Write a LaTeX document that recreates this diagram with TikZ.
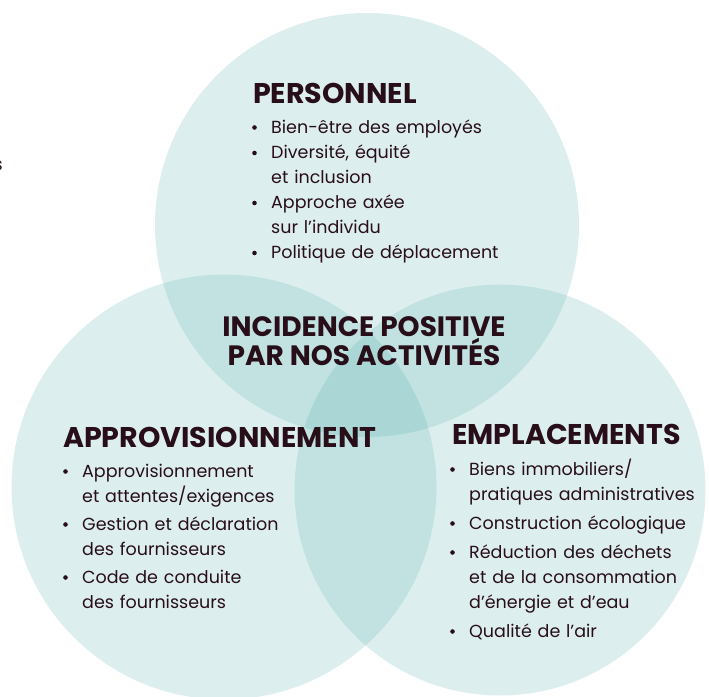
\documentclass[tikz,border=0pt]{standalone}
\usepackage{fontspec}
\setmainfont{Poppins}

\definecolor{venncol}{RGB}{82,174,172}
\definecolor{ink}{RGB}{40,14,24}
\newcommand{\dotmark}{\tikz[baseline={(0pt,-5.5pt)}]\fill[ink] (2.4pt,0pt) circle (2.3pt);}
\newcommand{\bul}[1]{{\let\\\newline\noindent\hangindent=19pt\hangafter=1\makebox[19pt][l]{\dotmark}#1\par}}

\begin{document}
\begin{tikzpicture}[x=1pt, y=-1pt, text=ink,
  venn/.style={circle, fill=venncol, fill opacity=0.2, inner sep=0pt},
  heading/.style={anchor=base west, inner sep=0pt, font=\fontsize{28.5}{30}\selectfont\bfseries},
  points/.style={anchor=base west, inner sep=0pt, text width=290pt, align=left,
    font=\fontsize{17.5}{#1}\selectfont}]
  \useasboundingbox (0,0) rectangle (709,696);

  % the three circles
  \node[venn, minimum size=424pt] (top) at (367,225) {};
  \node[venn, minimum size=425pt] (left) at (224,487) {};
  \node[venn, minimum size=411pt] (right) at (500,490) {};

  \node[anchor=base east, inner sep=0pt, font=\fontsize{17.5}{20}\selectfont] (cut) at (3,170) {s};

  % centre
  \node[inner sep=0pt, align=center, font=\fontsize{28}{29.5}\selectfont\bfseries] (centre) at (364,341)
    {INCIDENCE POSITIVE\\PAR NOS ACTIVITÉS};

  % personnel
  \node[heading] (pershead) at (253,103) {PERSONNEL};
  \node[points=24.5pt] (perslist) at (252,133) {\setlength{\parskip}{1pt}%
    \bul{Bien-être des employés}
    \bul{Diversité, équité\\et inclusion}
    \bul{Approche axée\\sur l’individu}
    \bul{Politique de déplacement}};

  % approvisionnement
  \node[heading] (apphead) at (63,447) {APPROVISIONNEMENT};
  \node[points=25pt] (applist) at (63,477) {\setlength{\parskip}{3pt}%
    \bul{Approvisionnement\\et attentes/exigences}
    \bul{Gestion et déclaration\\des fournisseurs}
    \bul{Code de conduite\\des fournisseurs}};

  % emplacements
  \node[heading] (emphead) at (452,444) {EMPLACEMENTS};
  \node[points=25pt] (emplist) at (450,475) {\setlength{\parskip}{4pt}%
    \bul{Biens immobiliers/\\pratiques administratives}
    \bul{Construction écologique}
    \bul{Réduction des déchets\\et de la consommation\\d’énergie et d’eau}
    \bul{Qualité de l’air}};
\end{tikzpicture}
\end{document}
